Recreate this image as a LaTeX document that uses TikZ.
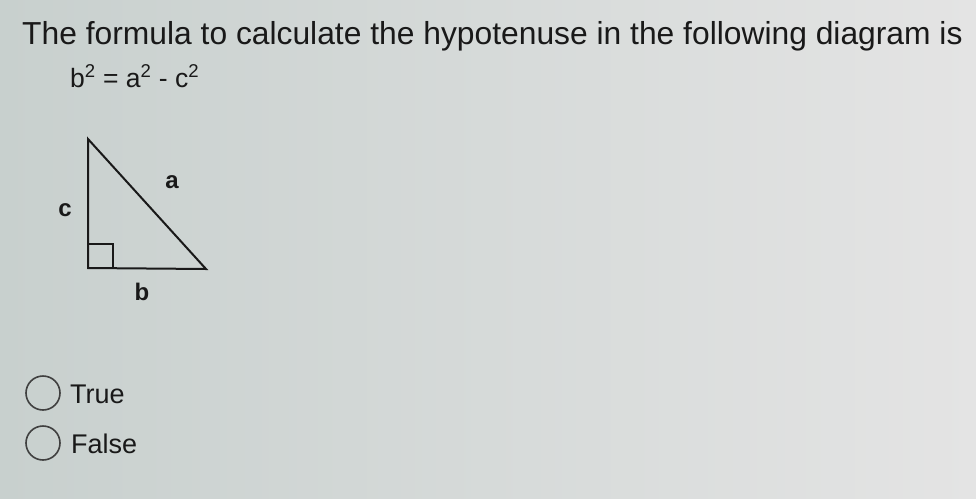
\documentclass[tikz,border=0pt]{standalone}
\usepackage{fontspec}
\setmainfont{Liberation Sans}
\begin{document}
\begin{tikzpicture}[x=1pt,y=-1pt,
  txt/.style={inner sep=0pt, anchor=base west, text=black!90},
  lbl/.style={inner sep=0pt, font=\fontsize{24}{28}\selectfont\bfseries, text=black!90},
  opt/.style={draw=black!75, line width=1.6pt, circle, minimum size=34pt, inner sep=0pt},
  edge/.style={line width=2pt, draw=black!90}]
\shade[left color={rgb,255:red,200;green,208;blue,206}, right color={rgb,255:red,228;green,228;blue,228}] (0,0) rectangle (976,498);
\useasboundingbox (0,0) rectangle (976,498);
\node[txt, font=\fontsize{31.8}{36}\selectfont] (title) at (22,44) {The formula to calculate the hypotenuse in the following diagram is};
\node[txt, font=\fontsize{26.5}{30}\selectfont] (formula) at (70,87) {b\textsuperscript{2} = a\textsuperscript{2} - c\textsuperscript{2}};
\coordinate (A) at (88,139);
\coordinate (C) at (88,268);
\coordinate (B) at (206,269);
\draw[edge, line join=miter] (A) -- (C) -- (B) -- cycle;
\draw[line width=1.2pt, draw=black!90] (88,244) -- (113,244) -- (113,268);
\node[lbl] (la) at (172,182) {a};
\node[lbl] (lc) at (65,210) {c};
\node[lbl] (lb) at (142,292) {b};
\node[opt] (o1) at (43,393) {};
\node[opt] (o2) at (43,443) {};
\node[txt, font=\fontsize{27}{32}\selectfont] (t1) at (70,403) {True};
\node[txt, font=\fontsize{27}{32}\selectfont] (t2) at (71,453) {False};
\end{tikzpicture}
\end{document}
